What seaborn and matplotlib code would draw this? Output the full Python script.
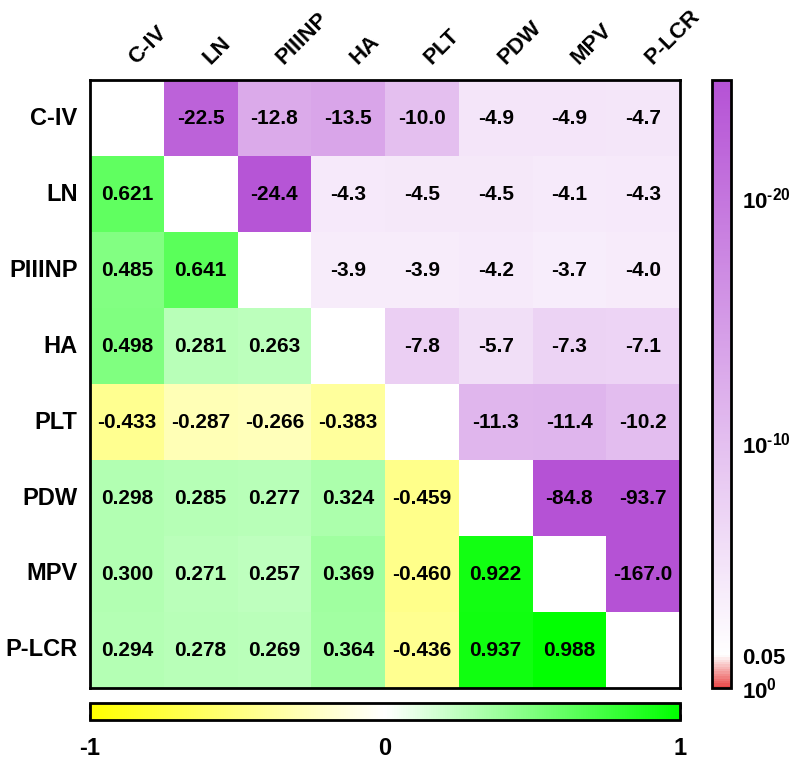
import numpy as np
import pandas as pd
import matplotlib
matplotlib.use("Agg")
import matplotlib.pyplot as plt
import matplotlib.transforms as mtransforms
import seaborn as sns
from matplotlib.colors import LinearSegmentedColormap

# ---- data ----
names = ['C-IV', 'LN', 'PIIINP', 'HA', 'PLT', 'PDW', 'MPV', 'P-LCR']

# lower triangle: correlation coefficients, row by row
corr_rows = [
    [],
    [0.621],
    [0.485, 0.641],
    [0.498, 0.281, 0.263],
    [-0.433, -0.287, -0.266, -0.383],
    [0.298, 0.285, 0.277, 0.324, -0.459],
    [0.300, 0.271, 0.257, 0.369, -0.460, 0.922],
    [0.294, 0.278, 0.269, 0.364, -0.436, 0.937, 0.988],
]

# upper triangle: log10(p), row by row
logp_rows = [
    [-22.5, -12.8, -13.5, -10.0, -4.9, -4.9, -4.7],
    [-24.4, -4.3, -4.5, -4.5, -4.1, -4.3],
    [-3.9, -3.9, -4.2, -3.7, -4.0],
    [-7.8, -5.7, -7.3, -7.1],
    [-11.3, -11.4, -10.2],
    [-84.8, -93.7],
    [-167.0],
    [],
]

p_ticks = [0, 1.3, 10, 20]
p_ticklabels = [r'$\mathbf{10^{0}}$', '0.05', r'$\mathbf{10^{\text{-}10}}$', r'$\mathbf{10^{\text{-}20}}$']
r_ticks = [-1, 0, 1]
r_ticklabels = ['-1', '0', '1']

# ---- build matrices ----
n = len(names)
corr = np.full((n, n), np.nan)
logp = np.full((n, n), np.nan)
for i, row in enumerate(corr_rows):
    for j, v in enumerate(row):
        corr[i, j] = v
for i, row in enumerate(logp_rows):
    for k, v in enumerate(row):
        logp[i, i + 1 + k] = v

corr_df = pd.DataFrame(corr, index=names, columns=names)
sig_df = pd.DataFrame(-logp, index=names, columns=names)
corr_annot = np.where(np.isnan(corr), '', np.vectorize(lambda v: f'{v:.3f}')(np.nan_to_num(corr)))
logp_annot = np.where(np.isnan(logp), '', np.vectorize(lambda v: f'{v:.1f}')(np.nan_to_num(logp)))

# ---- style ----
sns.set_style('white')
plt.rcParams['font.family'] = ['Liberation Sans', 'DejaVu Sans']
plt.rcParams['font.weight'] = 'bold'
plt.rcParams['axes.unicode_minus'] = False
plt.rcParams['mathtext.fontset'] = 'custom'
plt.rcParams['mathtext.rm'] = 'Liberation Sans:bold'
plt.rcParams['mathtext.bf'] = 'Liberation Sans:bold'
plt.rcParams['text.color'] = 'black'
plt.rcParams['xtick.color'] = 'black'
plt.rcParams['ytick.color'] = 'black'
plt.rcParams['xtick.labelcolor'] = 'black'
plt.rcParams['ytick.labelcolor'] = 'black'

corr_cmap = LinearSegmentedColormap.from_list('yg', [(0, '#ffff00'), (0.5, '#ffffff'), (1, '#00ff00')])
pmax = 24.8
p_cmap = LinearSegmentedColormap.from_list('rp', [(0, '#ea4848'), (1.3 / pmax, '#ffffff'), (1, '#b552d5')])

fig = plt.figure(figsize=(8, 7.61), dpi=100)
W, H = 800, 761
ax = fig.add_axes([90 / W, 1 - 688 / H, 590 / W, 608 / H])
cax_r = fig.add_axes([712 / W, 1 - 688 / H, 19 / W, 608 / H])
cax_b = fig.add_axes([90 / W, 1 - 720 / H, 590 / W, 17 / H])

akw = dict(fontsize=15, fontweight='bold', color='black')
sns.heatmap(corr_df, mask=np.isnan(corr), cmap=corr_cmap, vmin=-1, vmax=1,
            annot=corr_annot, fmt='', annot_kws=akw, ax=ax, cbar_ax=cax_b,
            cbar_kws={'orientation': 'horizontal'})
sns.heatmap(sig_df, mask=np.isnan(logp), cmap=p_cmap, vmin=0, vmax=pmax,
            annot=logp_annot, fmt='', annot_kws=akw, ax=ax, cbar_ax=cax_r)

# axes frame and labels
for sp in ax.spines.values():
    sp.set_visible(True)
    sp.set_linewidth(2)
    sp.set_color('black')
ax.xaxis.tick_top()
ax.tick_params(length=0, labelcolor='black')
ax.tick_params(axis='x', pad=8)
ax.tick_params(axis='y', pad=9)
ax.set_xticklabels(names, rotation=45, ha='left', va='bottom', rotation_mode='anchor',
                   fontsize=16, fontweight='bold', color='black')
ax.set_yticklabels(names, rotation=0, fontsize=17, fontweight='bold', color='black')
shift = mtransforms.ScaledTranslation(13 / 100, 0, fig.dpi_scale_trans)
for lab in ax.get_xticklabels():
    lab.set_transform(lab.get_transform() + shift)
ax.set_xlabel('')
ax.set_ylabel('')

# bottom colorbar
cb_b = ax.collections[0].colorbar
cb_b.outline.set_linewidth(2)
cb_b.outline.set_edgecolor('black')
cb_b.set_ticks(r_ticks)
cb_b.set_ticklabels(r_ticklabels)
cax_b.tick_params(axis='x', direction='in', length=4, width=2, top=True, bottom=True,
                  labelsize=17, pad=12, colors='black')
for t in cax_b.get_xticklabels():
    t.set_fontweight('bold')

# right colorbar
cb_r = ax.collections[1].colorbar
cb_r.outline.set_linewidth(2)
cb_r.outline.set_edgecolor('black')
cb_r.set_ticks(p_ticks)
cb_r.set_ticklabels(p_ticklabels)
cax_r.tick_params(axis='y', direction='in', length=4, width=2, left=True, right=True,
                  labelsize=16, pad=8, colors='black')
for t in cax_r.get_yticklabels():
    t.set_fontweight('bold')
for tk in cax_r.yaxis.get_major_ticks()[:2]:
    tk.tick1line.set_visible(False)
    tk.tick2line.set_visible(False)

fig.savefig('out.png', dpi=100)
